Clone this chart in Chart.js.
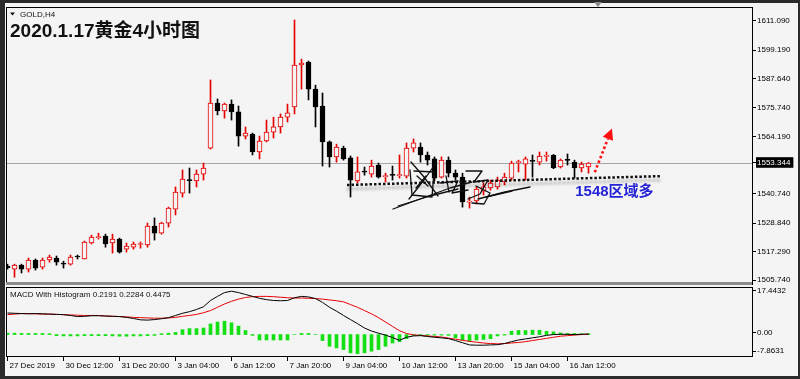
<!DOCTYPE html>
<html><head><meta charset="utf-8">
<script src="https://cdn.jsdelivr.net/npm/chart.js@4/dist/chart.umd.min.js"></script>
<style>
html,body{margin:0;padding:0;background:#f4f4f4;}
#wrap{position:relative;width:800px;height:379px;overflow:hidden;}
canvas{position:absolute;left:0;top:0;}
</style></head><body>
<div id="wrap"><canvas id="main" width="800" height="379"></canvas><canvas id="macd" width="800" height="379"></canvas></div>
<script>
// ---------- data (GOLD, H4) ----------
const opens  = [1511.4,1510.2,1511.8,1510.2,1513.9,1511.0,1513.9,1514.7,1512.6,1512.2,
                1515.3,1514.3,1520.8,1523.0,1523.6,1520.8,1522.4,1518.3,1519.1,1520.2,
                1520.0,1527.7,1524.8,1528.9,1534.6,1541.1,1546.6,1546.0,1548.8,1559.4,
                1577.7,1574.5,1577.3,1574.1,1564.3,1565.1,1557.8,1562.3,1565.9,1568.0,
                1572.0,1576.1,1593.2,1594.4,1583.4,1576.5,1561.9,1555.8,1559.4,1555.4,
                1546.0,1549.8,1548.8,1552.5,1547.8,1548.5,1548.2,1548.0,1559.4,1559.8,
                1556.6,1555.0,1547.6,1554.5,1549.2,1547.6,1537.4,1537.9,1541.9,1543.2,
                1543.6,1545.6,1547.2,1553.5,1552.9,1554.3,1553.7,1556.0,1556.6,1551.7,
                1554.6,1553.7,1551.3,1551.7];
const highs  = [1512.2,1512.2,1512.2,1514.7,1514.3,1514.7,1515.9,1515.5,1513.4,1515.9,
                1515.9,1521.6,1524.0,1524.8,1524.4,1524.4,1522.8,1520.8,1521.2,1521.2,
                1528.9,1531.0,1529.3,1535.4,1543.6,1550.5,1551.3,1550.5,1553.3,1587.1,
                1579.4,1577.7,1579.0,1576.5,1568.0,1565.5,1564.3,1570.8,1572.0,1573.3,
                1577.3,1611.5,1595.6,1594.8,1585.0,1581.8,1562.3,1561.0,1560.2,1556.2,
                1555.8,1551.7,1554.5,1553.3,1549.2,1552.1,1556.6,1561.5,1563.1,1561.5,
                1557.8,1555.8,1555.8,1555.8,1550.5,1549.2,1539.5,1543.6,1545.2,1546.4,
                1547.6,1549.2,1554.1,1554.5,1555.8,1556.6,1557.8,1557.8,1556.8,1555.0,
                1557.0,1554.5,1553.7,1553.5];
const lows   = [1510.2,1506.9,1508.6,1509.0,1509.8,1510.2,1513.0,1511.8,1510.6,1511.8,
                1514.3,1514.3,1520.4,1522.4,1519.1,1516.7,1516.7,1517.1,1518.3,1518.7,
                1519.1,1522.0,1524.4,1527.3,1532.2,1539.5,1541.1,1543.6,1546.4,1559.0,
                1572.9,1571.6,1570.8,1560.2,1563.1,1556.6,1555.0,1561.9,1563.5,1565.5,
                1570.0,1573.3,1583.4,1579.0,1568.0,1552.1,1551.7,1553.7,1554.5,1539.5,
                1545.2,1548.4,1547.6,1547.2,1545.6,1546.4,1547.2,1547.2,1557.8,1553.7,
                1552.5,1546.0,1547.2,1547.6,1546.4,1535.4,1535.0,1536.7,1540.3,1542.3,
                1542.7,1544.4,1546.4,1549.7,1546.4,1547.6,1552.5,1554.1,1551.0,1551.3,
                1552.5,1547.2,1549.7,1549.2];
const closes = [1510.8,1511.8,1510.2,1513.9,1510.6,1513.9,1515.1,1513.0,1512.2,1515.1,
                1515.1,1521.2,1523.2,1523.4,1520.4,1522.4,1517.1,1519.6,1520.4,1520.5,
                1527.7,1524.8,1528.9,1535.0,1541.5,1546.8,1546.2,1548.8,1551.3,1577.7,
                1574.5,1577.3,1574.1,1564.3,1565.5,1557.8,1562.3,1565.9,1568.0,1572.0,
                1573.7,1593.2,1594.0,1583.4,1576.1,1561.9,1555.8,1559.8,1555.0,1546.4,
                1549.7,1549.6,1552.1,1547.6,1548.1,1548.3,1548.5,1559.4,1561.5,1556.6,
                1554.5,1547.2,1554.5,1549.2,1547.6,1537.5,1537.6,1542.7,1543.6,1545.2,
                1546.4,1547.6,1553.3,1553.8,1555.0,1554.0,1556.2,1556.3,1551.3,1554.5,
                1554.4,1551.3,1552.9,1553.344];
const macdLine   = [7.9,7.8,7.7,7.6,7.7,7.6,7.5,7.4,7.3,7.0,
                    6.6,6.7,6.9,6.9,6.8,6.7,6.6,6.3,5.9,5.4,
                    5.3,5.5,5.8,6.2,7.0,7.8,8.4,9.2,10.2,12.5,
                    14.0,15.4,15.9,15.4,14.7,14.0,13.3,12.8,12.5,12.4,
                    12.5,13.5,14.0,13.8,13.2,11.8,10.0,8.6,7.0,5.5,
                    4.0,2.4,1.3,0.5,-0.2,-1.1,-2.1,-1.0,-0.5,-0.4,
                    -0.7,-1.0,-1.2,-1.5,-2.2,-3.0,-3.8,-3.9,-3.9,-3.8,
                    -3.7,-3.3,-2.6,-2.0,-1.6,-1.2,-0.8,-0.3,0.0,0.1,
                    0.1,0.0,0.1,0.2];
const signalLine = [7.3,7.5,7.7,7.7,7.6,7.5,7.5,7.4,7.3,7.2,
                    7.1,7.0,7.0,7.0,6.8,6.7,6.6,6.5,6.3,6.2,
                    6.1,6.0,6.0,6.1,6.3,6.7,7.0,7.4,8.0,8.8,
                    10.0,11.2,12.2,13.0,13.6,13.9,14.0,14.0,13.9,13.7,
                    13.5,13.4,13.4,13.3,13.2,13.0,12.7,12.4,12.0,11.0,
                    10.0,8.8,7.6,6.2,4.6,3.0,1.4,0.4,-0.1,-0.3,
                    -0.5,-0.7,-0.9,-1.3,-1.7,-2.1,-2.5,-2.8,-3.1,-3.3,
                    -3.4,-3.3,-3.1,-2.9,-2.6,-2.2,-1.8,-1.4,-1.0,-0.6,
                    -0.4,-0.2,0.0,0.1];
const histogram  = [0.5,0.5,0.4,0.4,0.4,0.4,0.3,-0.4,-0.5,-0.5,
                    -0.5,-0.4,-0.4,-0.4,-0.4,-0.5,-0.6,-0.6,-0.5,-0.5,
                    -0.4,-0.3,0.3,0.5,0.8,1.8,2.2,2.2,2.4,3.9,
                    4.6,4.9,4.3,3.1,1.5,-0.3,-2.0,-2.0,-2.0,-2.0,
                    -2.0,0.0,0.4,0.4,0.0,-2.2,-4.3,-4.9,-5.5,-6.7,
                    -7.0,-6.7,-6.1,-5.5,-4.3,-3.1,-2.6,-1.5,-0.3,-0.2,
                    -0.2,-0.2,-0.2,-0.3,-1.2,-2.0,-2.5,-2.0,-1.8,-1.5,
                    -0.5,-0.2,1.2,1.5,1.5,1.6,1.6,1.2,1.0,0.6,
                    0.4,0.4,0.3,0.3];
const timeTickBars   = [1,9,17,25,33,41,49,57,65,73,81];
const timeTickLabels = ['27 Dec 2019','30 Dec 12:00','31 Dec 20:00','3 Jan 04:00','6 Jan 12:00',
                        '7 Jan 20:00','9 Jan 04:00','10 Jan 12:00','13 Jan 20:00','15 Jan 04:00','16 Jan 12:00'];
const priceTicks = [1611.090,1599.190,1587.640,1575.740,1564.190,1540.740,1528.840,1517.290,1505.740];
const lastPrice  = 1553.344;
const macdTicks  = [17.4432,0,-7.8631];
const macdRange  = [-7.8631,17.4432];
// annotation anchors in (bar, price)
const supportLine = [[49.5,1544.4],[94.2,1548.0]];
const upArrow     = [[84.9,1549.6],[87.35,1567.4]];
const supportText = {bar:82.1, price:1541.4, text:'1548区域多'};

// ---------- rendering ----------
const BG = '#f4f4f4';
const FONT = '"Liberation Sans","DejaVu Sans",sans-serif';
const barIndex = opens.map((_, i) => i + 1);
const bull = closes.map((c, i) => c >= opens[i]);
const candleColor = bull.map(b => b ? '#e60000' : '#000000');
const XMIN = 5.5 / 7, XMAX = 5.5 / 7 + 746 / 7;

const mainDeco = {
  id: 'mainDeco',
  beforeDraw(chart) {
    const c = chart.ctx; c.save();
    c.fillStyle = '#2a2a2a'; c.fillRect(0, 0, 800, 379);
    c.fillStyle = BG; c.fillRect(5, 3, 793, 373);
    c.restore();
  },
  beforeDatasetsDraw(chart) {
    const {ctx, chartArea: a, scales: {y}} = chart;
    const py = Math.round(y.getPixelForValue(lastPrice)) + 0.5;
    ctx.save(); ctx.strokeStyle = '#a6a6a6'; ctx.lineWidth = 1;
    ctx.beginPath(); ctx.moveTo(a.left, py); ctx.lineTo(a.right, py); ctx.stroke();
    ctx.restore();
  },
  afterDraw(chart) {
    const {ctx, chartArea: a, scales: {x, y}} = chart;
    const X = v => x.getPixelForValue(v), Y = v => y.getPixelForValue(v);
    ctx.save();
    ctx.strokeStyle = '#000'; ctx.lineWidth = 1;
    ctx.beginPath();
    ctx.moveTo(a.left, a.top + 0.5); ctx.lineTo(a.right, a.top + 0.5);
    ctx.moveTo(a.left + 0.5, a.top); ctx.lineTo(a.left + 0.5, a.bottom);
    ctx.stroke();
    ctx.fillStyle = '#8a8a8a';
    ctx.beginPath(); ctx.moveTo(594, 2); ctx.lineTo(602, 2); ctx.lineTo(598, 7); ctx.closePath(); ctx.fill();
    ctx.fillStyle = '#111';
    ctx.beginPath(); ctx.moveTo(10, 12.5); ctx.lineTo(15, 12.5); ctx.lineTo(12.5, 15.5); ctx.closePath(); ctx.fill();
    ctx.font = '8px ' + FONT; ctx.textBaseline = 'alphabetic';
    ctx.fillText('GOLD,H4', 20, 16.5);
    ctx.font = 'bold 19px "Liberation Sans","Noto Sans CJK SC",sans-serif';
    ctx.fillText('2020.1.17黄金4小时图', 10, 37);
    ctx.save();
    ctx.shadowColor = 'rgba(0,0,0,0.35)'; ctx.shadowBlur = 3; ctx.shadowOffsetY = 4;
    ctx.strokeStyle = '#111'; ctx.lineWidth = 2.5; ctx.setLineDash([2.5, 2]);
    ctx.beginPath();
    ctx.moveTo(X(supportLine[0][0]), Y(supportLine[0][1]));
    ctx.lineTo(X(supportLine[1][0]), Y(supportLine[1][1]));
    ctx.stroke();
    ctx.restore();
    ctx.save();
    ctx.strokeStyle = '#111'; ctx.lineWidth = 1.3; ctx.lineCap = 'round'; ctx.lineJoin = 'round';
    const strokes = [
      [[393,209],[420,199],[450,188],[472,182]],
      [[398,206],[430,196],[458,189]],
      [[411,162],[424,177],[438,196]],
      [[436,163],[424,180],[409,199]],
      [[410,170],[412,195],[432,197],[434,172],[414,171]],
      [[417,176],[428,186]],[[426,176],[416,188]],
      [[440,183],[458,181],[452,193],[468,190]],
      [[446,176],[449,192]],
      [[466,171],[482,171],[474,182],[488,180],[480,194],[468,199]],
      [[476,186],[490,193],[484,204],[472,203]],
      [[478,199],[505,192],[530,187]],
      [[486,197],[512,191]]
    ];
    strokes.forEach(s => { ctx.beginPath(); ctx.moveTo(s[0][0], s[0][1]); s.slice(1).forEach(p => ctx.lineTo(p[0], p[1])); ctx.stroke(); });
    ctx.restore();
    const sx = X(upArrow[0][0]), sy = Y(upArrow[0][1]), tx = X(upArrow[1][0]), ty = Y(upArrow[1][1]);
    const ang = Math.atan2(ty - sy, tx - sx), hl = 11, hw = 5.5;
    const bx = tx - hl * Math.cos(ang), by = ty - hl * Math.sin(ang);
    ctx.save();
    ctx.strokeStyle = '#ff1010'; ctx.lineWidth = 2.6; ctx.setLineDash([2.5, 2.5]);
    ctx.beginPath(); ctx.moveTo(sx, sy); ctx.lineTo(bx, by); ctx.stroke();
    ctx.setLineDash([]); ctx.fillStyle = '#ff1010';
    ctx.beginPath(); ctx.moveTo(tx, ty);
    ctx.lineTo(bx + hw * Math.sin(ang), by - hw * Math.cos(ang));
    ctx.lineTo(bx - hw * Math.sin(ang), by + hw * Math.cos(ang));
    ctx.closePath(); ctx.fill();
    ctx.restore();
    ctx.fillStyle = '#2424d6';
    ctx.font = 'bold 15px "Liberation Sans","Noto Sans CJK SC",sans-serif';
    ctx.textBaseline = 'middle';
    ctx.fillText(supportText.text, X(supportText.bar), Y(supportText.price));
    ctx.restore();
  }
};

new Chart(document.getElementById('main'), {
  type: 'bar',
  data: {
    datasets: [
      { label: 'body', data: barIndex.map((b, i) => ({x: b, y: [opens[i], closes[i]]})),
        backgroundColor: bull.map(b => b ? BG : '#000'), borderColor: candleColor,
        borderWidth: 1, borderSkipped: false, barThickness: 5, minBarLength: 1, grouped: false },
      { label: 'wick', data: barIndex.map((b, i) => ({x: b, y: [lows[i], highs[i]]})),
        backgroundColor: candleColor, borderWidth: 0, barThickness: 1, grouped: false }
    ]
  },
  options: {
    responsive: false, animation: false, devicePixelRatio: 1,
    layout: {padding: {left: 6, top: 7, right: 2, bottom: 95}},
    plugins: {legend: {display: false}, tooltip: {enabled: false}},
    scales: {
      x: {type: 'linear', display: false, offset: false, min: XMIN, max: XMAX, grid: {offset: false}},
      y: {
        type: 'linear', position: 'right', min: 1504.13, max: 1616.78,
        afterFit: s => { s.width = 46; },
        afterBuildTicks: s => { s.ticks = [...priceTicks, lastPrice].map(v => ({value: v})); },
        ticks: {
          font: {family: FONT, size: 8}, padding: 1,
          color: c => (c.tick && c.tick.value === lastPrice) ? '#fff' : '#000',
          showLabelBackdrop: c => !!(c.tick && c.tick.value === lastPrice),
          backdropColor: '#000', backdropPadding: {left: 1, right: 3, top: 1, bottom: 0},
          callback: v => Number(v).toFixed(3)
        },
        grid: {drawOnChartArea: false, tickLength: 4, color: '#000'},
        border: {display: true, color: '#000'}
      }
    }
  },
  plugins: [mainDeco]
});

const macdDeco = {
  id: 'macdDeco',
  afterDraw(chart) {
    const {ctx, chartArea: a} = chart;
    ctx.save();
    ctx.fillStyle = '#8c8c8c'; ctx.fillRect(a.left, a.top - 5, a.right - a.left, 3);
    ctx.strokeStyle = '#000'; ctx.lineWidth = 1;
    ctx.beginPath();
    ctx.moveTo(a.left, a.top + 0.5); ctx.lineTo(a.right, a.top + 0.5);
    ctx.moveTo(a.left + 0.5, a.top); ctx.lineTo(a.left + 0.5, a.bottom);
    ctx.stroke();
    ctx.fillStyle = '#111'; ctx.font = '8px ' + FONT; ctx.textBaseline = 'alphabetic';
    ctx.fillText('MACD With Histogram 0.2191 0.2284 0.4475', 10, 297);
    ctx.restore();
  }
};

new Chart(document.getElementById('macd'), {
  type: 'bar',
  data: {
    datasets: [
      { type: 'line', label: 'MACD', data: barIndex.map((b, i) => ({x: b, y: macdLine[i]})),
        borderColor: '#000', borderWidth: 1, pointRadius: 0, tension: 0, yAxisID: 'y' },
      { type: 'line', label: 'Signal', data: barIndex.map((b, i) => ({x: b, y: signalLine[i]})),
        borderColor: '#e60000', borderWidth: 1, pointRadius: 0, tension: 0, yAxisID: 'y' },
      { type: 'bar', label: 'Histogram', data: barIndex.map((b, i) => ({x: b, y: histogram[i]})),
        backgroundColor: '#12e012', barThickness: 3, grouped: false, yAxisID: 'y' }
    ]
  },
  options: {
    responsive: false, animation: false, devicePixelRatio: 1,
    layout: {padding: {left: 6, top: 287, right: 2, bottom: 3}},
    plugins: {legend: {display: false}, tooltip: {enabled: false}},
    scales: {
      x: {
        type: 'linear', position: 'bottom', offset: false, min: XMIN, max: XMAX,
        afterFit: s => { s.height = 20; },
        afterBuildTicks: s => { s.ticks = timeTickBars.map(v => ({value: v})); },
        ticks: {
          autoSkip: false, maxRotation: 0, minRotation: 0, align: 'start', labelOffset: 2, padding: 0,
          font: {family: FONT, size: 8}, color: '#000',
          callback: v => timeTickLabels[timeTickBars.indexOf(v)]
        },
        grid: {drawOnChartArea: false, offset: false, tickLength: 5, color: '#000'},
        border: {display: true, color: '#000'}
      },
      y: {type: 'linear', display: false, min: macdRange[0], max: macdRange[1]},
      yl: {
        type: 'linear', position: 'right', min: -9.97, max: 19.13,
        afterFit: s => { s.width = 46; },
        afterBuildTicks: s => { s.ticks = macdTicks.map(v => ({value: v})); },
        ticks: {font: {family: FONT, size: 8}, color: '#000', padding: 1,
                callback: v => v === 0 ? '0.00' : String(v)},
        grid: {drawOnChartArea: false, tickLength: 4, color: '#000'},
        border: {display: true, color: '#000'}
      }
    }
  },
  plugins: [macdDeco]
});
</script>
</body></html>
